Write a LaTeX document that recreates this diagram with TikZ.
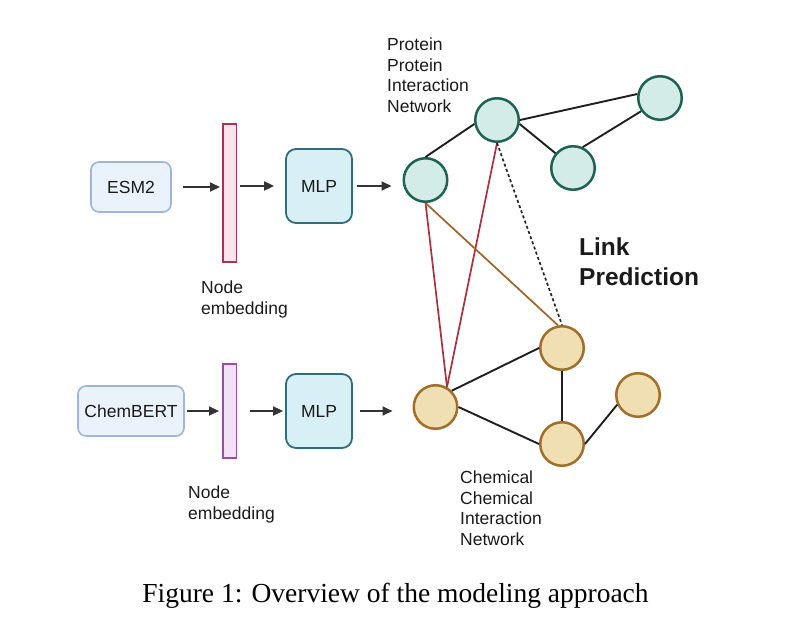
\documentclass[tikz,border=0pt]{standalone}
\usepackage{fontspec}
\setmainfont{Liberation Sans}
\newfontfamily\capfont{Liberation Serif}
\usetikzlibrary{arrows.meta}

\definecolor{infill}{HTML}{EAF2FC}
\definecolor{inborder}{HTML}{9DB5DF}
\definecolor{pinkfill}{HTML}{FBE3EB}
\definecolor{pinkborder}{HTML}{A3384F}
\definecolor{purpfill}{HTML}{F2E1F8}
\definecolor{purpborder}{HTML}{9A4DA6}
\definecolor{mlpfill}{HTML}{D8EFF5}
\definecolor{mlpborder}{HTML}{2E6F7B}
\definecolor{protfill}{HTML}{D3ECE7}
\definecolor{protborder}{HTML}{1E6352}
\definecolor{chemfill}{HTML}{F0DFB2}
\definecolor{chemborder}{HTML}{A06F2A}
\definecolor{redline}{HTML}{A8323E}
\definecolor{brownline}{HTML}{A0622C}
\definecolor{txt}{HTML}{1A1A1A}
\definecolor{arrowgray}{HTML}{333333}

\begin{document}
\begin{tikzpicture}[x=1pt, y=-1pt, font=\fontsize{17.5}{20.5}\selectfont, text=txt,
    inbox/.style={rectangle, rounded corners=8pt, draw=inborder, fill=infill, line width=1.6pt, minimum height=50pt},
    mlp/.style={rectangle, rounded corners=10pt, draw=mlpborder, fill=mlpfill, line width=1.8pt, minimum width=66pt, minimum height=74pt},
    emb/.style={rectangle, line width=1.5pt, minimum width=13.5pt, inner sep=0pt},
    prot/.style={circle, draw=protborder, fill=protfill, line width=2.5pt, minimum size=43.5pt, inner sep=0pt},
    chem/.style={circle, draw=chemborder, fill=chemfill, line width=2.5pt, minimum size=43.5pt, inner sep=0pt},
    arr/.style={-{Triangle[length=10pt,width=9pt]}, line width=1.8pt, draw=arrowgray},
    gline/.style={line width=1.9pt, draw=black!88},
    txtlabel/.style={align=left, anchor=north west, inner sep=0pt}]

    \useasboundingbox (0,0) rectangle (791,636);

    \node [inbox, minimum width=80pt] (esm) at (131,187) {ESM2};
    \node [emb, draw=pinkborder, fill=pinkfill, minimum height=138pt] (embP) at (229.5,193) {};
    \node [mlp] (mlpP) at (319,186) {MLP};
    \node [txtlabel] (embPtxt) at (201,281) {Node\\embedding};

    \node [inbox, minimum width=106pt] (chemb) at (131,411) {ChemBERT};
    \node [emb, draw=purpborder, fill=purpfill, minimum height=94pt] (embC) at (229.5,411) {};
    \node [mlp] (mlpC) at (319,411) {MLP};
    \node [txtlabel] (embCtxt) at (188,486) {Node\\embedding};

    \node [prot] (p1) at (425.5,180) {};
    \node [prot] (p2) at (497,120) {};
    \node [prot] (p3) at (573,168) {};
    \node [prot] (p4) at (660,98) {};
    \node [txtlabel] (ppi) at (387,38) {Protein\\Protein\\Interaction\\Network};

    \node [chem] (c1) at (435.5,407) {};
    \node [chem] (c2) at (562,348) {};
    \node [chem] (c3) at (562,444) {};
    \node [chem] (c4) at (638,395) {};
    \node [txtlabel] (cci) at (460,471) {Chemical\\Chemical\\Interaction\\Network};

    \node [txtlabel, font=\bfseries\fontsize{24.5}{30}\selectfont] (lp) at (579,238) {Link\\Prediction};

    \draw [arr, shorten <=11pt, shorten >=2pt] (esm.east) -- (esm.east -| embP.west);
    \draw [arr, shorten <=3pt, shorten >=11pt] (embP.east |- mlpP.west) -- (mlpP.west);
    \draw [arr, shorten <=4pt, shorten >=11pt] (mlpP.east) -- (mlpP.east -| p1.west);
    \draw [arr, shorten <=2pt, shorten >=3pt] (chemb.east) -- (chemb.east -| embC.west);
    \draw [arr, shorten <=13pt, shorten >=2pt] (embC.east |- mlpC.west) -- (mlpC.west);
    \draw [arr, shorten <=7pt, shorten >=20pt] (mlpC.east) -- (mlpC.east -| c1.west);

    \draw [gline] (p1.north) -- (p2.190);
    \draw [gline] (p2.east) -- (p4.170);
    \draw [gline] (p2.350) -- (p3.140);
    \draw [gline] (p3.65) -- (p4.215);

    \draw [gline] (c1.45) -- (c2.west);
    \draw [gline] (c1.east) -- (c3.west);
    \draw [gline] (c2.south) -- (c3.north);
    \draw [gline] (c3.east) -- (c4.205);

    \draw [line width=1.7pt, draw=redline] (p1.south) -- (c1.60);
    \draw [line width=1.7pt, draw=redline] (p2.south) -- (c1.60);
    \draw [line width=1.7pt, draw=brownline] (p1.south) -- (c2.100);
    \draw [line width=1.7pt, dash pattern=on 3pt off 2.5pt, draw=black!85] (p2.south) -- (c2.north);

    \node [anchor=base, font=\capfont\fontsize{27.5}{33}\selectfont, text=black] (cap) at (395.5,602) {Figure 1: Overview of the modeling approach};

\end{tikzpicture}
\end{document}
